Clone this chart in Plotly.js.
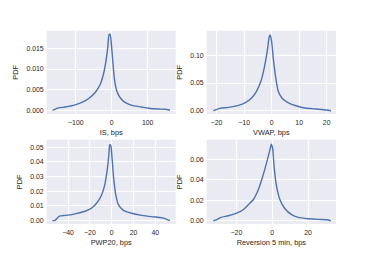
<!DOCTYPE html>
<html><head><meta charset="utf-8">
<script src="https://cdn.plot.ly/plotly-3.0.1.min.js"></script>
<style>html,body{margin:0;padding:0;background:#fff}#c{width:374px;height:257px}</style>
</head><body><div id="c"></div>
<script>
// IS, bps
const isX = [-165,-148,-130,-102,-83,-65,-46,-32,-23,-16,-11,-7.4,-4.6,-1.9,2.8,7.4,14,23,37,56,83,102,130,148,162];
const isY = [0,0.00057,0.0008,0.0013,0.0019,0.0028,0.0043,0.0063,0.0088,0.012,0.0153,0.0184,0.0184,0.0169,0.012,0.0076,0.0047,0.0031,0.0019,0.0012,0.0008,0.0005,0.0003,0.00025,0];
// VWAP, bps
const vwapX = [-21.2,-18.8,-15.8,-12.1,-9.7,-7.3,-5.5,-3.9,-2.7,-1.6,-0.85,-0.5,0,0.6,1.5,2.4,3.9,6.1,9.1,12.1,15.8,18.8,21.6];
const vwapY = [0,0.0042,0.006,0.0096,0.014,0.023,0.035,0.053,0.077,0.107,0.134,0.137,0.125,0.095,0.059,0.035,0.022,0.014,0.0084,0.0048,0.003,0.0018,0];
// PWP20, bps
const pwpX = [-54.4,-52,-48,-42.7,-36.6,-30.5,-24.4,-18.3,-13.7,-9.8,-6.7,-4.3,-2.7,-1.8,-0.9,0.3,1.8,3.7,6.1,10.7,18.3,27.5,36.6,45.8,48.9,53.4];
const pwpY = [0,0.0002,0.003,0.0036,0.0041,0.0052,0.0064,0.0086,0.012,0.0166,0.0234,0.0336,0.0439,0.0518,0.0514,0.0427,0.029,0.0177,0.0109,0.007,0.005,0.0036,0.0027,0.002,0.0014,0];
// Reversion 5 min, bps
const revX = [-32.9,-31,-28.7,-24.6,-19.9,-16.2,-13.4,-10.6,-7.8,-5.6,-3.2,-1.3,-0.56,0.19,1.1,2.4,4.3,7.1,10.8,14.5,20.1,25.7,30.3,32.7];
const revY = [0,0.001,0.0033,0.0049,0.0075,0.0108,0.0157,0.0206,0.0303,0.0418,0.0564,0.0695,0.075,0.0711,0.0515,0.0336,0.0206,0.0117,0.0059,0.0033,0.002,0.0013,0.001,0];

const xTitles = ["IS, bps","VWAP, bps","PWP20, bps","Reversion 5 min, bps"];
const xTicks = [[-100,0,100],[-20,-10,0,10,20],[-40,-20,0,20,40],[-20,0,20]];
const yTicks = [[0,0.005,0.01,0.015],[0,0.05,0.1],[0,0.01,0.02,0.03,0.04,0.05],[0,0.02,0.04,0.06]];
const yFmt = [".3f",".2f",".2f",".2f"];

const LINE = "#4C72B0";
const xs = [isX,vwapX,pwpX,revX], ys=[isY,vwapY,pwpY,revY];
const traces = xs.map((x,i)=>({x:x,y:ys[i],type:"scatter",mode:"lines",
  line:{color:LINE,width:1.4,shape:"spline",smoothing:0.6},
  xaxis:"x"+(i?i+1:""), yaxis:"y"+(i?i+1:""), hoverinfo:"skip", showlegend:false}));

const xDom = [[0.1249,0.4698],[0.5527,0.8984]];
const yDom = [[0.5564,0.8806],[0.1284,0.4564]];
const xRanges = [[-181,178],[-23.6,23.4],[-59.6,58.7],[-36.6,35.6]];
const yRanges = [[-0.0009,0.0193],[-0.006,0.1445],[-0.0023,0.0552],[-0.0032,0.0794]];
const FONT = {family:"Liberation Sans, Arial, sans-serif", color:"#262626"};

const layout = {width:374,height:257,margin:{l:0,r:0,t:0,b:0},
  paper_bgcolor:"#fff",plot_bgcolor:"#EAEAF2",font:FONT};
for(let i=0;i<4;i++){
  const s = i?String(i+1):"";
  layout["xaxis"+s] = {domain:xDom[i%2],anchor:"y"+s,range:xRanges[i],
    tickvals:xTicks[i],ticks:"",ticklabelstandoff:3,showgrid:true,gridcolor:"#fff",gridwidth:1,zeroline:false,
    showline:false,tickfont:{size:6.9,...FONT},
    title:{text:xTitles[i],font:{size:7.4,...FONT},standoff:4}};
  layout["yaxis"+s] = {domain:yDom[Math.floor(i/2)],anchor:"x"+s,range:yRanges[i],
    tickvals:yTicks[i],tickformat:yFmt[i],ticks:"",ticklabelstandoff:2,showgrid:true,gridcolor:"#fff",gridwidth:1,
    zeroline:false,showline:false,tickfont:{size:6.9,...FONT},
    title:{text:"PDF",font:{size:7.4,...FONT},standoff:6}};
}
Plotly.newPlot("c",traces,layout,{staticPlot:true,displayModeBar:false});
</script></body></html>
